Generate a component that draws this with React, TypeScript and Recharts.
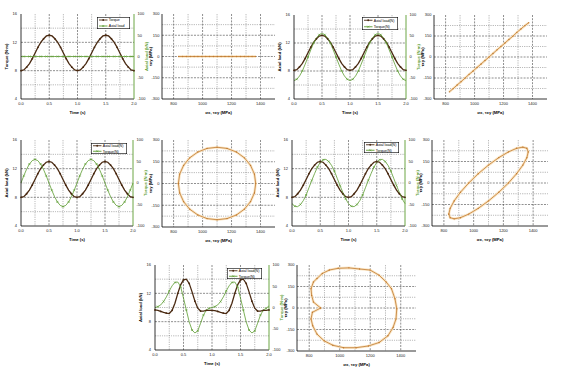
import React from 'react';
import { LineChart, Line, XAxis, YAxis, CartesianGrid } from 'recharts';

// ---------- data ----------
const time = [0, 0.05, 0.1, 0.15, 0.2, 0.25, 0.3, 0.35, 0.4, 0.45, 0.5, 0.55, 0.6, 0.65, 0.7, 0.75, 0.8, 0.85, 0.9, 0.95, 1, 1.05, 1.1, 1.15, 1.2, 1.25, 1.3, 1.35, 1.4, 1.45, 1.5, 1.55, 1.6, 1.65, 1.7, 1.75, 1.8, 1.85, 1.9, 1.95, 2];

const p1Torque = [8.0, 8.1, 8.5, 9.0, 9.7, 10.5, 11.3, 12.0, 12.5, 12.9, 13.0, 12.9, 12.5, 12.0, 11.3, 10.5, 9.7, 9.0, 8.5, 8.1, 8.0, 8.1, 8.5, 9.0, 9.7, 10.5, 11.3, 12.0, 12.5, 12.9, 13.0, 12.9, 12.5, 12.0, 11.3, 10.5, 9.7, 9.0, 8.5, 8.1, 8.0];
const p1Axial = [0, 0, 0, 0, 0, 0, 0, 0, 0, 0, 0, 0, 0, 0, 0, 0, 0, 0, 0, 0, 0, 0, 0, 0, 0, 0, 0, 0, 0, 0, 0, 0, 0, 0, 0, 0, 0, 0, 0, 0, 0];

const p3Axial = [8.1, 8.2, 8.6, 9.1, 9.8, 10.6, 11.4, 12.1, 12.6, 13.0, 13.1, 13.0, 12.6, 12.1, 11.4, 10.6, 9.8, 9.1, 8.6, 8.2, 8.1, 8.2, 8.6, 9.1, 9.8, 10.6, 11.4, 12.1, 12.6, 13.0, 13.1, 13.0, 12.6, 12.1, 11.4, 10.6, 9.8, 9.1, 8.6, 8.2, 8.1];
const p3Torque = [-56, -53, -45, -33, -17, 0, 17, 33, 45, 53, 56, 53, 45, 33, 17, 0, -17, -33, -45, -53, -56, -53, -45, -33, -17, 0, 17, 33, 45, 53, 56, 53, 45, 33, 17, 0, -17, -33, -45, -53, -56];

const p5Axial = [8.0, 8.1, 8.5, 9.0, 9.7, 10.5, 11.3, 12.0, 12.5, 12.9, 13.0, 12.9, 12.5, 12.0, 11.3, 10.5, 9.7, 9.0, 8.5, 8.1, 8.0, 8.1, 8.5, 9.0, 9.7, 10.5, 11.3, 12.0, 12.5, 12.9, 13.0, 12.9, 12.5, 12.0, 11.3, 10.5, 9.7, 9.0, 8.5, 8.1, 8.0];
const p5Torque = [0, 17, 32, 44, 52, 55, 52, 44, 32, 17, 0, -17, -32, -44, -52, -55, -52, -44, -32, -17, 0, 17, 32, 44, 52, 55, 52, 44, 32, 17, 0, -17, -32, -44, -52, -55, -52, -44, -32, -17, 0];

const p7Axial = [8.0, 8.1, 8.5, 9.0, 9.7, 10.5, 11.3, 12.0, 12.5, 12.9, 13.0, 12.9, 12.5, 12.0, 11.3, 10.5, 9.7, 9.0, 8.5, 8.1, 8.0, 8.1, 8.5, 9.0, 9.7, 10.5, 11.3, 12.0, 12.5, 12.9, 13.0, 12.9, 12.5, 12.0, 11.3, 10.5, 9.7, 9.0, 8.5, 8.1, 8.0];
const p7Torque = [-48, -54, -55, -50, -41, -28, -11, 6, 22, 37, 48, 54, 55, 50, 41, 28, 11, -6, -22, -37, -48, -54, -55, -50, -41, -28, -11, 6, 22, 37, 48, 54, 55, 50, 41, 28, 11, -6, -22, -37, -48];

const p9Axial = [9.65, 9.6, 9.45, 9.3, 9.2, 9.15, 9.6, 10.6, 12.0, 13.2, 13.9, 14.0, 13.4, 12.2, 10.9, 9.9, 9.5, 9.5, 9.6, 9.6, 9.6, 9.55, 9.45, 9.3, 9.2, 9.15, 9.6, 10.6, 12.0, 13.2, 13.9, 14.0, 13.4, 12.2, 10.9, 9.9, 9.5, 9.5, 9.6, 9.6, 9.65];
const p9Torque = [0, 2, 6, 14, 25, 39, 51, 59, 60, 49, 22, -6, -34, -53, -60, -55, -37, -18, -6, -2, 0, 2, 6, 14, 25, 39, 51, 59, 60, 49, 22, -6, -34, -53, -60, -55, -37, -18, -6, -2, 4];

const p2X = [835, 862, 888, 915, 942, 968, 995, 1022, 1048, 1075, 1102, 1128, 1155, 1182, 1208, 1235, 1262, 1288, 1315, 1342, 1365];
const p2Y = [0, 0, 0, 0, 0, 0, 0, 0, 0, 0, 0, 0, 0, 0, 0, 0, 0, 0, 0, 0, 0];

const p4X = [826, 852, 880, 907, 935, 962, 990, 1017, 1045, 1072, 1100, 1127, 1155, 1182, 1210, 1237, 1265, 1292, 1320, 1347, 1374];
const p4Y = [-249, -226, -200, -176, -150, -124, -100, -75, -50, -25, 0, 25, 51, 75, 100, 125, 149, 176, 200, 224, 245];

const p6X = [833, 842, 869, 911, 967, 1031, 1100, 1169, 1234, 1289, 1331, 1358, 1367, 1358, 1331, 1289, 1234, 1169, 1100, 1031, 967, 911, 869, 842, 833];
const p6Y = [0, 65, 125, 177, 217, 242, 250, 242, 217, 177, 125, 65, 0, -65, -125, -177, -217, -242, -250, -242, -217, -177, -125, -65, 0];

const p8X = [833, 842, 869, 911, 967, 1031, 1100, 1169, 1234, 1289, 1331, 1358, 1367, 1358, 1331, 1289, 1234, 1169, 1100, 1031, 967, 911, 869, 842, 833];
const p8Y = [-217, -242, -250, -242, -217, -177, -125, -65, 0, 65, 125, 177, 217, 242, 250, 242, 217, 177, 125, 65, 0, -65, -125, -177, -217];

const p10X = [875, 828, 816, 812, 828, 851, 886, 932, 990, 1060, 1130, 1199, 1258, 1304, 1339, 1362, 1374, 1369, 1350, 1316, 1258, 1188, 1107, 1025, 955, 898, 851, 823, 812, 821, 875];
const p10Y = [0, 41, 88, 135, 182, 206, 241, 265, 277, 280, 272, 265, 229, 182, 135, 65, -5, -76, -135, -194, -241, -265, -277, -277, -260, -229, -182, -124, -76, -30, 0];

// axis ticks / grid values
const timeTicks = [0, 0.5, 1, 1.5, 2];
const timeMajorX = [0.5, 1, 1.5];
const timeMinorX = [0.25, 0.75, 1.25, 1.75];
const leftTicks = [4, 8, 12, 16];
const leftMajorY = [8, 12];
const leftMinorY = [6, 10, 14];
const rightTicks = [-100, -50, 0, 50, 100];
const xyXTicks = [800, 1000, 1200, 1400];
const xyMinorX = [900, 1100, 1300];
const xyYTicks = [-300, -150, 0, 150, 300];
const xyMajorY = [-150, 0, 150];
const xyMinorY = [-225, -75, 75, 225];

// ---------- style ----------
const DARK = '#4a2a12';
const GREEN = '#5c9c30';
const ORANGE = '#c07a30';
const HALO = '#fae6c6';
const GRID = '#444';
const FONT = '"Liberation Sans", Arial, sans-serif';
const tickStyle = { fontSize: 4, fill: '#222', fontFamily: FONT };

const ML = 21, MR = 17, MT = 4, MB = 16;
const XL = 14, XR = 3;

type TimeCfg = {
  x0: number; x1: number; y0: number; y1: number;
  dark: number[]; green: number[];
  darkName: string; greenName: string;
  leftTitle: string; rightTitle: string;
  lg: { x: number; y: number; w: number; h: number };
};

const darkDot = (p: any) =>
  p.index % 2 === 0 ? <circle key={p.index} cx={p.cx} cy={p.cy} r={0.9} fill={DARK} /> : <g key={p.index} />;
const greenDot = (p: any) =>
  p.index % 2 === 1 ? (
    <path key={p.index} d={`M${p.cx - 1},${p.cy - 1}L${p.cx + 1},${p.cy + 1}M${p.cx - 1},${p.cy + 1}L${p.cx + 1},${p.cy - 1}`} stroke={GREEN} strokeWidth={0.6} />
  ) : <g key={p.index} />;
const orangeDot = (p: any) => <circle key={p.index} cx={p.cx} cy={p.cy} r={0.7} fill={ORANGE} />;

function LegendBox({ x, y, w, h, items }: { x: number; y: number; w: number; h: number; items: { name: string; color: string; kind: string }[] }) {
  return (
    <svg style={{ position: 'absolute', left: x, top: y }} width={w} height={h}>
      <rect x={0.3} y={0.3} width={w - 0.6} height={h - 0.6} fill="#fff" stroke="#000" strokeWidth={0.6} />
      {items.map((it, i) => {
        const cy = (h * (i + 0.5)) / items.length;
        return (
          <g key={i}>
            <line x1={2} x2={10.5} y1={cy} y2={cy} stroke={it.color} strokeWidth={0.9} />
            {it.kind === 'dot' ? (
              <circle cx={6.2} cy={cy} r={0.9} fill={it.color} />
            ) : (
              <path d={`M5.2,${cy - 1}L7.2,${cy + 1}M5.2,${cy + 1}L7.2,${cy - 1}`} stroke={it.color} strokeWidth={0.6} />
            )}
            <text x={11.8} y={cy + 1.3} fontSize={3.6} fontFamily={FONT} fill="#000">{it.name}</text>
          </g>
        );
      })}
    </svg>
  );
}

function TimePlot({ c }: { c: TimeCfg }) {
  const rows = time.map((t, i) => ({ t, a: c.dark[i], b: c.green[i] }));
  const w = c.x1 - c.x0 + ML + MR;
  const h = c.y1 - c.y0 + MT + MB;
  const left = c.x0 - ML;
  const top = c.y0 - MT;
  return (
    <div style={{ position: 'absolute', left, top, width: w, height: h }}>
      <LineChart width={w} height={h} data={rows} margin={{ top: MT, right: 0, bottom: 0, left: 0 }}>
        <CartesianGrid xAxisId="b" yAxisId="l" horizontalValues={leftMajorY} verticalValues={timeMajorX} stroke={GRID} strokeWidth={0.6} strokeDasharray="2 1.2" />
        <CartesianGrid xAxisId="b" yAxisId="l" horizontalValues={leftMinorY} verticalValues={timeMinorX} stroke={GRID} strokeWidth={0.6} strokeDasharray="0.6 1.2" />
        <XAxis xAxisId="b" dataKey="t" type="number" domain={[0, 2]} ticks={timeTicks} interval={0}
          tickFormatter={(v: number) => v.toFixed(1)} height={MB} tickLine={false} tickSize={2} tickMargin={1}
          tick={tickStyle} axisLine={{ stroke: '#000', strokeWidth: 0.8 }}
          label={{ value: 'Time (s)', position: 'insideBottom', offset: 1.5, fontSize: 4.2, fontWeight: 'bold', fill: '#000', fontFamily: FONT }} />
        <XAxis xAxisId="top" orientation="top" type="number" domain={[0, 2]} height={0} tick={false} tickLine={false} axisLine={{ stroke: '#000', strokeWidth: 0.8 }} />
        <YAxis yAxisId="l" type="number" domain={[4, 16]} ticks={leftTicks} interval={0} width={ML} tickLine={false} tickSize={2} tickMargin={2}
          tick={tickStyle} axisLine={{ stroke: '#000', strokeWidth: 0.8 }}
          label={{ value: c.leftTitle, angle: -90, position: 'insideLeft', offset: 7, fontSize: 4.2, fontWeight: 'bold', fill: '#000', fontFamily: FONT, style: { textAnchor: 'middle' } }} />
        <YAxis yAxisId="r" orientation="right" type="number" domain={[-100, 100]} ticks={rightTicks} interval={0} width={MR} tickLine={false} tickSize={2} tickMargin={1.5}
          tick={tickStyle} axisLine={{ stroke: GREEN, strokeWidth: 0.9 }}
          label={{ value: c.rightTitle, angle: -90, position: 'insideRight', offset: 4.5, fontSize: 4.2, fontWeight: 'bold', fill: GREEN, fontFamily: FONT, style: { textAnchor: 'middle' } }} />
        <Line xAxisId="b" yAxisId="l" type="linear" dataKey="a" stroke={DARK} strokeWidth={1.3} dot={darkDot} isAnimationActive={false} />
        <Line xAxisId="b" yAxisId="r" type="linear" dataKey="b" stroke={GREEN} strokeWidth={0.8} dot={greenDot} isAnimationActive={false} />
      </LineChart>
      <LegendBox x={c.lg.x - left} y={c.lg.y - top} w={c.lg.w} h={c.lg.h}
        items={[{ name: c.darkName, color: DARK, kind: 'dot' }, { name: c.greenName, color: GREEN, kind: 'cross' }]} />
    </div>
  );
}

type XYCfg = { x0: number; x1: number; y0: number; y1: number; xs: number[]; ys: number[] };

function XYPlot({ c }: { c: XYCfg }) {
  const rows = c.xs.map((x, i) => ({ x, y: c.ys[i] }));
  const w = c.x1 - c.x0 + XL + XR;
  const h = c.y1 - c.y0 + MT + MB;
  return (
    <div style={{ position: 'absolute', left: c.x0 - XL, top: c.y0 - MT, width: w, height: h }}>
      <LineChart width={w} height={h} data={rows} margin={{ top: MT, right: XR, bottom: 0, left: 0 }}>
        <CartesianGrid xAxisId="b" yAxisId="l" horizontalValues={xyMajorY} verticalValues={xyXTicks} stroke={GRID} strokeWidth={0.6} strokeDasharray="2 1.2" />
        <CartesianGrid xAxisId="b" yAxisId="l" horizontalValues={xyMinorY} verticalValues={xyMinorX} stroke={GRID} strokeWidth={0.6} strokeDasharray="0.6 1.2" />
        <XAxis xAxisId="b" dataKey="x" type="number" domain={[720, 1500]} ticks={xyXTicks} interval={0} allowDataOverflow
          height={MB} tickLine={false} tickSize={2} tickMargin={1} tick={tickStyle} axisLine={{ stroke: '#000', strokeWidth: 0.8 }}
          label={{ value: 'σx, τxy (MPa)', position: 'insideBottom', offset: 1.5, fontSize: 4.2, fontWeight: 'bold', fill: '#000', fontFamily: FONT }} />
        <XAxis xAxisId="top" orientation="top" type="number" domain={[720, 1500]} height={0} tick={false} tickLine={false} axisLine={{ stroke: '#000', strokeWidth: 0.8 }} />
        <YAxis yAxisId="l" type="number" domain={[-300, 300]} ticks={xyYTicks} interval={0} width={XL} tickLine={false} tickSize={1} tickMargin={1.5}
          tick={tickStyle} axisLine={{ stroke: '#000', strokeWidth: 0.8 }}
          label={{ value: 'τxy (MPa)', angle: -90, position: 'insideLeft', offset: 3, fontSize: 4.2, fontWeight: 'bold', fill: '#000', fontFamily: FONT, style: { textAnchor: 'middle' } }} />
        <YAxis yAxisId="r" orientation="right" type="number" domain={[-300, 300]} width={0} tick={false} tickLine={false} axisLine={{ stroke: '#000', strokeWidth: 0.8 }} />
        <Line xAxisId="b" yAxisId="l" type="linear" dataKey="y" stroke={HALO} strokeWidth={2.6} dot={false} isAnimationActive={false} />
        <Line xAxisId="b" yAxisId="l" type="linear" dataKey="y" stroke={ORANGE} strokeWidth={0.8} dot={orangeDot} isAnimationActive={false} />
      </LineChart>
    </div>
  );
}

const TOR = 'Torque (N·m)';
const AX = 'Axial load (kN)';

const timePlots: TimeCfg[] = [
  { x0: 21, x1: 134, y0: 14, y1: 99, dark: p1Torque, green: p1Axial, darkName: 'Torque', greenName: 'Axial load', leftTitle: TOR, rightTitle: AX, lg: { x: 97, y: 17, w: 33, h: 12 } },
  { x0: 294, x1: 406, y0: 15, y1: 99, dark: p3Axial, green: p3Torque, darkName: 'Axial load(N)', greenName: 'Torque(N)', leftTitle: AX, rightTitle: TOR, lg: { x: 362, y: 17, w: 36, h: 13 } },
  { x0: 21, x1: 133, y0: 140, y1: 226, dark: p5Axial, green: p5Torque, darkName: 'Axial load(N)', greenName: 'Torque(N)', leftTitle: AX, rightTitle: TOR, lg: { x: 91, y: 143, w: 36, h: 11 } },
  { x0: 292, x1: 405, y0: 140, y1: 226, dark: p7Axial, green: p7Torque, darkName: 'Axial load(N)', greenName: 'Torque(N)', leftTitle: AX, rightTitle: TOR, lg: { x: 364, y: 142, w: 35, h: 11 } },
  { x0: 155, x1: 269, y0: 265, y1: 350, dark: p9Axial, green: p9Torque, darkName: 'Axial load(N)', greenName: 'Torque(N)', leftTitle: AX, rightTitle: TOR, lg: { x: 227, y: 268, w: 35, h: 11 } },
];

const xyPlots: XYCfg[] = [
  { x0: 162, x1: 275, y0: 14, y1: 99, xs: p2X, ys: p2Y },
  { x0: 434, x1: 547, y0: 15, y1: 99, xs: p4X, ys: p4Y },
  { x0: 162, x1: 275, y0: 140, y1: 227, xs: p6X, ys: p6Y },
  { x0: 432, x1: 548, y0: 140, y1: 226, xs: p8X, ys: p8Y },
  { x0: 297, x1: 416, y0: 265, y1: 351, xs: p10X, ys: p10Y },
];

export default function App() {
  return (
    <div style={{ position: 'absolute', left: 0, top: 0, width: 569, height: 373, background: '#fff', overflow: 'hidden' }}>
      {timePlots.map((c, i) => <TimePlot key={'t' + i} c={c} />)}
      {xyPlots.map((c, i) => <XYPlot key={'x' + i} c={c} />)}
    </div>
  );
}
